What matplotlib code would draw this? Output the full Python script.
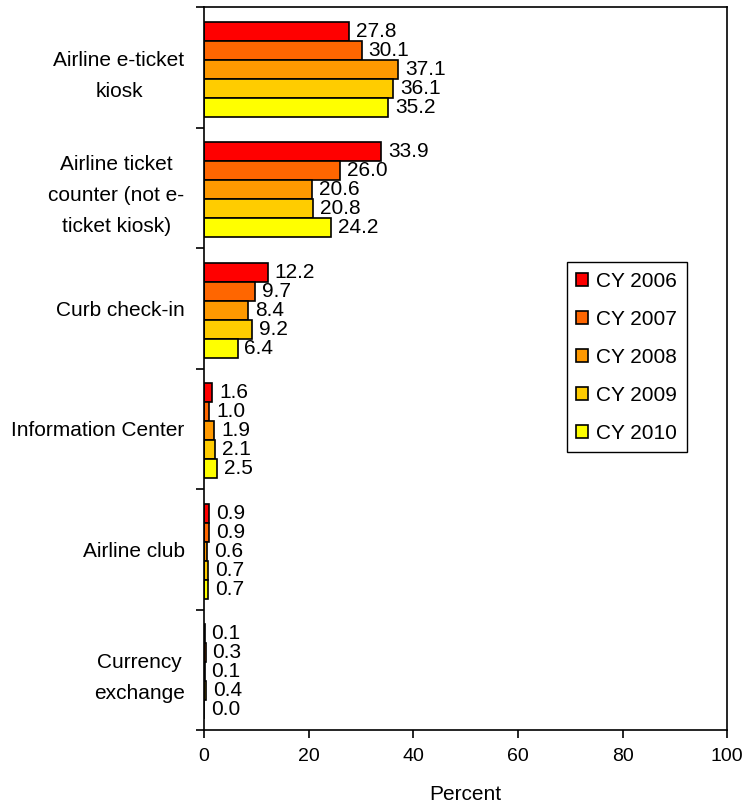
import numpy as np
import matplotlib
matplotlib.use("Agg")
import matplotlib.pyplot as plt

plt.rcParams.update({"font.family": ["Liberation Sans", "DejaVu Sans"], "font.size": 15})

categories = ["Airline e-ticket\nkiosk", "Airline ticket\ncounter (not e-\nticket kiosk)",
              "Curb check-in", "Information Center", "Airline club", "Currency\nexchange"]
years = ["CY 2006", "CY 2007", "CY 2008", "CY 2009", "CY 2010"]
cy2006 = [27.8, 33.9, 12.2, 1.6, 0.9, 0.1]
cy2007 = [30.1, 26.0, 9.7, 1.0, 0.9, 0.3]
cy2008 = [37.1, 20.6, 8.4, 1.9, 0.6, 0.1]
cy2009 = [36.1, 20.8, 9.2, 2.1, 0.7, 0.4]
cy2010 = [35.2, 24.2, 6.4, 2.5, 0.7, 0.0]
series = [cy2006, cy2007, cy2008, cy2009, cy2010]
colors = ["#FF0000", "#FF6600", "#FF9900", "#FFCC00", "#FFFF00"]

fig = plt.figure(figsize=(7.42, 8.08), dpi=100)
ax = fig.add_axes([0.275, 0.0965, 0.705, 0.8945])

y = np.arange(len(categories))
h = 0.158
for j, (vals, col, lab) in enumerate(zip(series, colors, years)):
    pos = y + (j - 2) * h + 0.015
    ax.barh(pos, vals, height=h, color=col, edgecolor="black", linewidth=1.2, label=lab)
    for p, v in zip(pos, vals):
        ax.annotate(f"{v:.1f}", (v, p), xytext=(5, 0), textcoords="offset points",
                    va="center", ha="left", fontsize=15)

ax.set_xlim(0, 100)
ax.set_ylim(len(categories) - 0.5, -0.5)
ax.set_xticks([0, 20, 40, 60, 80, 100])
ax.set_yticks(np.arange(-0.5, len(categories)), minor=True)
ax.set_yticks(y)
ax.set_yticklabels(categories)
ax.tick_params(axis="y", length=0, pad=14)
ax.tick_params(axis="y", which="minor", length=6, width=1.2, direction="out")
ax.tick_params(axis="x", length=6, width=1.2, direction="out", pad=7, labelsize=14)
for s in ax.spines.values():
    s.set_linewidth(1.2)
ax.set_xlabel("Percent", labelpad=14)
for t in ax.get_yticklabels():
    t.set_multialignment("center")
    t.set_linespacing(1.8)

ax.legend(loc="upper left", bbox_to_anchor=(0.694, 0.647), fancybox=False, edgecolor="black",
          framealpha=1, borderpad=0.45, labelspacing=0.91, handlelength=0.55, handleheight=0.55,
          handletextpad=0.4, borderaxespad=0)

plt.savefig("out.png", dpi=100)
plt.close()
